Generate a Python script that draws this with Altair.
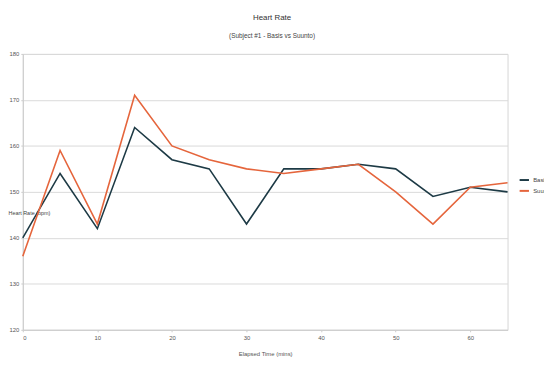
import altair as alt
import pandas as pd

minutes = [0, 5, 10, 15, 20, 25, 30, 35, 40, 45, 50, 55, 60, 65]
basis = [140, 154, 142, 164, 157, 155, 143, 155, 155, 156, 155, 149, 151, 150]
suunto = [136, 159, 143, 171, 160, 157, 155, 154, 155, 156, 150, 143, 151, 152]
series_names = ["Basis", "Suunto"]
colors = ["#1d3a45", "#e5653c"]

df = pd.DataFrame(
    {"t": minutes * 2,
     "hr": basis + suunto,
     "series": [series_names[0]] * len(minutes) + [series_names[1]] * len(minutes)}
)

FONT = "Liberation Sans"

chart = alt.Chart(df).mark_line(strokeWidth=1.6).encode(
    x=alt.X("t:Q", scale=alt.Scale(domain=[0, 65], nice=False),
            axis=alt.Axis(title="Elapsed Time (mins)", values=[0, 10, 20, 30, 40, 50, 60],
                          grid=False, tickSize=2, labelPadding=3, titlePadding=10,
                          labelFontSize=6, titleFontSize=6, labelFont=FONT, titleFont=FONT,
                          labelColor="#555", titleColor="#555", titleFontWeight="normal",
                          domainColor="#ccc", tickColor="#ccc")),
    y=alt.Y("hr:Q", scale=alt.Scale(domain=[120, 180], nice=False, zero=False),
            axis=alt.Axis(title="Heart Rate (bpm)", values=[120, 130, 140, 150, 160, 170, 180],
                          grid=True, gridColor="#d9d9d9", tickSize=2, labelPadding=2,
                          labelFontSize=6, titleFontSize=5.5, labelFont=FONT, titleFont=FONT,
                          labelColor="#555", titleColor="#444", titleFontWeight="normal",
                          titleAngle=0, titleAlign="left", titleBaseline="middle",
                          titleX=-15, titleY=161,
                          domainColor="#ccc", tickColor="#ccc")),
    color=alt.Color("series:N", scale=alt.Scale(domain=series_names, range=colors),
                    legend=alt.Legend(title=None, orient="none", legendX=503, legendY=122,
                                      symbolType="stroke", symbolStrokeWidth=2, symbolSize=90,
                                      labelFontSize=6, labelFont=FONT, labelColor="#444",
                                      rowPadding=1, labelOffset=3)),
).properties(
    width=492,
    height=280,
    title=alt.TitleParams("Heart Rate", subtitle="(Subject #1 - Basis vs Suunto)",
                          anchor="middle", dx=7, fontSize=8, subtitleFontSize=6.5,
                          font=FONT, subtitleFont=FONT, fontWeight="normal",
                          color="#333", subtitleColor="#444", offset=12, subtitlePadding=11),
    autosize=alt.AutoSizeParams(type="none"),
    padding={"left": 15, "top": 44, "right": 37, "bottom": 26},
).configure_view(stroke="#d5d5d5")

chart.save("out.html", embed_options={"renderer": "svg", "actions": False})
